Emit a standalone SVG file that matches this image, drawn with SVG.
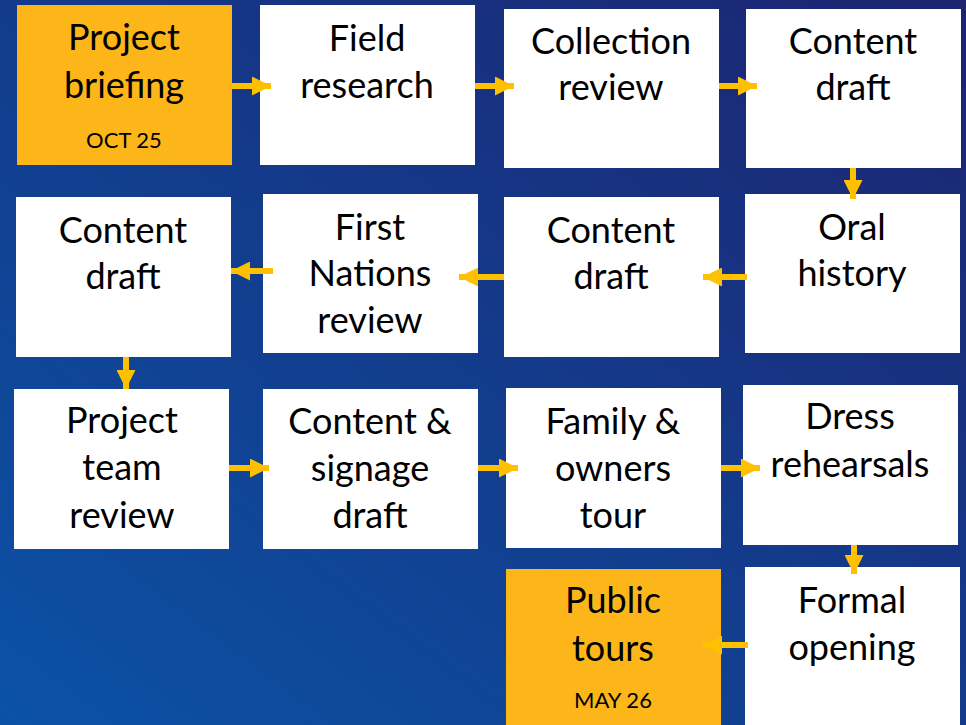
<svg xmlns="http://www.w3.org/2000/svg" width="966" height="725" viewBox="0 0 966 725">
<defs>
<linearGradient id="bg" x1="0" y1="1" x2="1" y2="0">
<stop offset="0" stop-color="#0b52a6"/>
<stop offset="1" stop-color="#1c2470"/>
</linearGradient>
<marker id="ah" viewBox="0 0 19 19" refX="19" refY="9.5" markerWidth="19" markerHeight="19" markerUnits="userSpaceOnUse" orient="auto">
<path d="M0,0 L19,9.5 L0,19 Z" fill="#ffc000"/>
</marker>
<style>
.box{fill:#fff}
.hl{fill:#fdb61a}
.t{font-family:Lato,"Open Sans","Liberation Sans",sans-serif;font-size:36px;fill:#000;text-anchor:middle}
.s{font-family:Lato,"Open Sans","Liberation Sans",sans-serif;font-size:22px;fill:#000;text-anchor:middle}
.c{stroke:#ffc000;stroke-width:6;fill:none;marker-end:url(#ah)}
</style>
</defs>
<rect width="966" height="725" fill="url(#bg)"/>

<g id="n1"><rect class="hl" x="17" y="5" width="215" height="160"/>
<text class="t" x="124" y="50">Project</text><text class="t" x="124" y="98">briefing</text><text class="s" x="124" y="148">OCT 25</text></g>
<g id="n2"><rect class="box" x="260" y="5" width="215" height="160"/>
<text class="t" x="367" y="51">Field</text><text class="t" x="367" y="98">research</text></g>
<g id="n3"><rect class="box" x="504" y="9" width="215" height="159"/>
<text class="t" x="611" y="54">Collection</text><text class="t" x="611" y="100">review</text></g>
<g id="n4"><rect class="box" x="746" y="9" width="215" height="159"/>
<text class="t" x="853" y="54">Content</text><text class="t" x="853" y="100">draft</text></g>

<g id="n5"><rect class="box" x="16" y="197" width="215" height="160"/>
<text class="t" x="123" y="243">Content</text><text class="t" x="123" y="289">draft</text></g>
<g id="n6"><rect class="box" x="263" y="194" width="215" height="159"/>
<text class="t" x="370" y="240">First</text><text class="t" x="370" y="286">Nations</text><text class="t" x="370" y="333">review</text></g>
<g id="n7"><rect class="box" x="504" y="197" width="215" height="160"/>
<text class="t" x="611" y="243">Content</text><text class="t" x="611" y="289">draft</text></g>
<g id="n8"><rect class="box" x="745" y="194" width="215" height="159"/>
<text class="t" x="852" y="240">Oral</text><text class="t" x="852" y="286">history</text></g>

<g id="n9"><rect class="box" x="14" y="389" width="215" height="160"/>
<text class="t" x="122" y="433">Project</text><text class="t" x="122" y="480">team</text><text class="t" x="122" y="528">review</text></g>
<g id="n10"><rect class="box" x="263" y="389" width="215" height="160"/>
<text class="t" x="370" y="434">Content &amp;</text><text class="t" x="370" y="481">signage</text><text class="t" x="370" y="528">draft</text></g>
<g id="n11"><rect class="box" x="506" y="388" width="215" height="160"/>
<text class="t" x="613" y="434">Family &amp;</text><text class="t" x="613" y="481">owners</text><text class="t" x="613" y="528">tour</text></g>
<g id="n12"><rect class="box" x="743" y="385" width="215" height="160"/>
<text class="t" x="850" y="429">Dress</text><text class="t" x="850" y="477">rehearsals</text></g>

<g id="n13"><rect class="hl" x="506" y="569" width="215" height="160"/>
<text class="t" x="613" y="613">Public</text><text class="t" x="613" y="661">tours</text><text class="s" x="613" y="708">MAY 26</text></g>
<g id="n14"><rect class="box" x="745" y="567" width="215" height="160"/>
<text class="t" x="852" y="613">Formal</text><text class="t" x="852" y="660">opening</text></g>

<g id="connectors">
<line class="c" x1="232" y1="86" x2="271" y2="86"/>
<line class="c" x1="475" y1="86" x2="514" y2="86"/>
<line class="c" x1="719" y1="86" x2="757" y2="86"/>
<line class="c" x1="853" y1="168" x2="853" y2="199"/>
<line class="c" x1="747" y1="277" x2="703" y2="277"/>
<line class="c" x1="504" y1="277" x2="459" y2="277"/>
<line class="c" x1="273" y1="271" x2="231" y2="271"/>
<line class="c" x1="126" y1="357" x2="126" y2="389"/>
<line class="c" x1="229" y1="468" x2="269" y2="468"/>
<line class="c" x1="478" y1="468" x2="518" y2="468"/>
<line class="c" x1="721" y1="468" x2="760" y2="468"/>
<line class="c" x1="854" y1="545" x2="854" y2="574"/>
<line class="c" x1="748" y1="645" x2="703" y2="645"/>
</g>
</svg>
